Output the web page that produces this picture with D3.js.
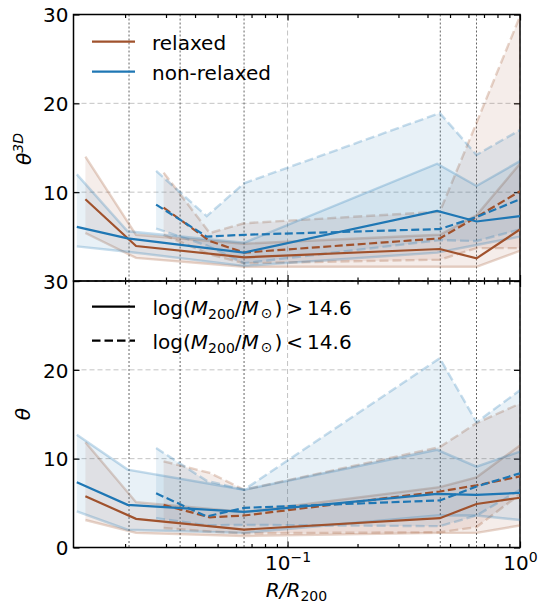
<!DOCTYPE html>
<html><head><meta charset="utf-8">
<script src="https://cdn.jsdelivr.net/npm/d3@7"></script>
<style>
body{margin:0;background:#fff;}
svg{display:block;font-family:"DejaVu Sans",sans-serif;}
</style></head>
<body><svg id="c" width="539" height="607"></svg>
<script>
// ---------- data ----------
const xRelSolid = [0.0135, 0.0223, 0.065, 0.452, 0.65, 1.0];
const xNonSolid = [0.0124, 0.0205, 0.065, 0.44, 0.65, 1.0];
const xRelDash  = [0.0293, 0.0463, 0.065, 0.452, 0.65, 1.0];
const xNonDash  = [0.0272, 0.0449, 0.065, 0.452, 0.65, 1.0];

// top panel: theta^3D
const relTopSolidMed = [9.2, 3.94, 2.67, 3.6, 2.55, 5.8];
const relTopSolidLo  = [5.4, 2.6, 1.6, 1.6, 1.6, 3.4];
const relTopSolidHi  = [14.0, 5.2, 4.2, 5.2, 7.4, 13.2];
const nonTopSolidMed = [6.1, 4.8, 3.2, 7.9, 6.7, 7.3];
const nonTopSolidLo  = [3.9, 3.3, 1.7, 3.2, 4.05, 5.0];
const nonTopSolidHi  = [12.0, 5.6, 4.3, 13.2, 10.7, 13.5];
const relTopDashMed  = [8.25, 4.5, 3.2, 4.8, 7.2, 10.1];
const relTopDashLo   = [5.2, 3.0, 2.0, 2.4, 3.7, 3.7];
const relTopDashHi   = [12.2, 5.4, 6.5, 7.8, 17.8, 29.8];
const nonTopDashMed  = [8.6, 5.0, 5.2, 5.85, 7.2, 9.2];
const nonTopDashLo   = [5.9, 4.0, 2.0, 4.6, 4.5, 5.8];
const nonTopDashHi   = [12.4, 7.3, 11.0, 18.9, 14.2, 17.0];

// bottom panel: theta
const relBotSolidMed = [5.77, 3.23, 2.02, 3.3, 4.9, 5.6];
const relBotSolidLo  = [3.1, 1.65, 1.3, 1.65, 1.65, 2.47];
const relBotSolidHi  = [11.85, 5.1, 4.0, 6.8, 7.9, 11.5];
const nonBotSolidMed = [7.35, 4.8, 4.0, 6.04, 5.93, 6.15];
const nonBotSolidLo  = [4.08, 2.0, 1.65, 3.6, 3.6, 3.1];
const nonBotSolidHi  = [12.7, 8.77, 6.5, 11.0, 9.1, 10.8];
const relBotDashMed  = [4.8, 3.4, 3.6, 6.3, 7.0, 8.0];
const relBotDashLo   = [2.2, 1.8, 1.6, 1.72, 2.3, 6.0];
const relBotDashHi   = [9.7, 8.4, 6.5, 11.3, 14.0, 16.2];
const nonBotDashMed  = [6.1, 3.5, 4.46, 5.3, 6.86, 8.36];
const nonBotDashLo   = [3.3, 2.5, 2.55, 2.4, 3.6, 6.5];
const nonBotDashHi   = [11.2, 7.5, 6.5, 21.3, 14.1, 17.7];

const binEdges = [0.0208, 0.0345, 0.065, 0.454, 0.65];
const yTicks = [0, 10, 20, 30];
const yTicksTopLabels = [10, 20, 30]; // the top panel's "0" sits under the lower panel's "30"
const xMajor = [0.1, 1];
const legendCat = ["relaxed", "non-relaxed"];

// ---------- layout ----------
const C_REL = "#a0522d", C_NON = "#1f77b4";
const L = 73.5, R = 520;
const svg = d3.select("#c");
const x = d3.scaleLog().domain([0.012, 1]).range([L, R]);
const yT = d3.scaleLinear().domain([0, 30]).range([281, 14.5]);
const yB = d3.scaleLinear().domain([0, 30]).range([547.5, 281]);

const defs = svg.append("defs");
function panel(y, id) {
  const [b, t] = y.range();
  defs.append("clipPath").attr("id", id).append("rect")
    .attr("x", L).attr("y", t).attr("width", R - L).attr("height", b - t);
  const g = svg.append("g");
  g.selectAll(".gy").data(yTicks).join("line")
    .attr("x1", L).attr("x2", R).attr("y1", d => y(d)).attr("y2", d => y(d))
    .attr("stroke", "#c4c4c4").attr("stroke-width", 1).attr("stroke-dasharray", "5,3");
  g.selectAll(".gx").data(xMajor).join("line")
    .attr("x1", d => x(d)).attr("x2", d => x(d)).attr("y1", t).attr("y2", b)
    .attr("stroke", "#c4c4c4").attr("stroke-width", 1).attr("stroke-dasharray", "5,3");
  g.selectAll(".ve").data(binEdges).join("line")
    .attr("x1", d => x(d)).attr("x2", d => x(d)).attr("y1", t).attr("y2", b)
    .attr("stroke", "#666").attr("stroke-width", 1).attr("stroke-dasharray", "2,2");
  const content = svg.append("g").attr("clip-path", `url(#${id})`);
  return {g, content, t, b};
}

function band(p, y, xs, lo, hi, med, color, dashed) {
  const pts = xs.map((v, i) => ({x: v, lo: lo[i], hi: hi[i], m: med[i]}));
  p.content.append("path").datum(pts)
    .attr("d", d3.area().x(d => x(d.x)).y0(d => y(d.lo)).y1(d => y(d.hi)))
    .attr("fill", color).attr("fill-opacity", 0.1);
  for (const k of ["lo", "hi"]) {
    p.content.append("path").datum(pts)
      .attr("d", d3.line().x(d => x(d.x)).y(d => y(d[k])))
      .attr("fill", "none").attr("stroke", color).attr("stroke-opacity", 0.25)
      .attr("stroke-width", 2.4).attr("stroke-dasharray", dashed ? "9,4" : null);
  }
}
function medLine(p, y, xs, med, color, dashed) {
  p.content.append("path").datum(xs.map((v, i) => [v, med[i]]))
    .attr("d", d3.line().x(d => x(d[0])).y(d => y(d[1])))
    .attr("fill", "none").attr("stroke", color).attr("stroke-width", 2.2)
    .attr("stroke-dasharray", dashed ? "8,3.5" : null);
}

function axes(p, y, showX, labelVals) {
  const g = p.g.append("g");
  const minor = x.ticks().filter(v => !xMajor.some(m => Math.abs(m - v) < 1e-9));
  const addX = (gen, pos, size, vals) => g.append("g").attr("transform", `translate(0,${pos})`)
    .call(gen(x).tickValues(vals).tickSizeInner(-size).tickSizeOuter(0).tickFormat(""));
  const xb = addX(d3.axisBottom, p.b, 6, xMajor);
  addX(d3.axisBottom, p.b, 3.5, minor);
  addX(d3.axisTop, p.t, 6, xMajor);
  addX(d3.axisTop, p.t, 3.5, minor);
  g.append("g").attr("transform", `translate(${L},0)`)
    .call(d3.axisLeft(y).tickValues(yTicks).tickSizeInner(-6).tickSizeOuter(0).tickPadding(5)
      .tickFormat(d => labelVals.includes(d) ? d3.format("d")(d) : ""));
  g.append("g").attr("transform", `translate(${R},0)`)
    .call(d3.axisRight(y).tickValues(yTicks).tickSizeInner(-6).tickSizeOuter(0).tickFormat(""));
  g.selectAll(".domain").remove();
  g.selectAll(".tick line").attr("stroke", "#000").attr("stroke-width", 1.2);
  g.selectAll("text").attr("font-size", 20).attr("font-family", "DejaVu Sans").attr("fill", "#000")
    .attr("dy", "0.36em");
  if (showX) {
    xb.selectAll(".tick").each(function(d) {
      const t = d3.select(this).append("text").attr("y", 22.5).attr("fill", "#000")
        .attr("text-anchor", "middle").attr("font-size", 20).attr("font-family", "DejaVu Sans");
      const e = Math.round(Math.log10(d));
      t.append("tspan").text("10");
      t.append("tspan").attr("dy", -8.5).attr("font-size", 14).text(e < 0 ? "\u2212" + (-e) : String(e));
    });
  }
  p.g.append("rect").attr("x", L).attr("y", p.t).attr("width", R - L).attr("height", p.b - p.t)
    .attr("fill", "none").attr("stroke", "#000").attr("stroke-width", 1.5);
}

const pT = panel(yT, "clipT");
const pB = panel(yB, "clipB");

band(pT, yT, xRelSolid, relTopSolidLo, relTopSolidHi, relTopSolidMed, C_REL, false);
band(pT, yT, xRelDash, relTopDashLo, relTopDashHi, relTopDashMed, C_REL, true);
band(pT, yT, xNonSolid, nonTopSolidLo, nonTopSolidHi, nonTopSolidMed, C_NON, false);
band(pT, yT, xNonDash, nonTopDashLo, nonTopDashHi, nonTopDashMed, C_NON, true);
band(pB, yB, xRelSolid, relBotSolidLo, relBotSolidHi, relBotSolidMed, C_REL, false);
band(pB, yB, xRelDash, relBotDashLo, relBotDashHi, relBotDashMed, C_REL, true);
band(pB, yB, xNonSolid, nonBotSolidLo, nonBotSolidHi, nonBotSolidMed, C_NON, false);
band(pB, yB, xNonDash, nonBotDashLo, nonBotDashHi, nonBotDashMed, C_NON, true);
medLine(pT, yT, xRelSolid, relTopSolidMed, C_REL, false);
medLine(pT, yT, xRelDash, relTopDashMed, C_REL, true);
medLine(pT, yT, xNonSolid, nonTopSolidMed, C_NON, false);
medLine(pT, yT, xNonDash, nonTopDashMed, C_NON, true);
medLine(pB, yB, xRelSolid, relBotSolidMed, C_REL, false);
medLine(pB, yB, xRelDash, relBotDashMed, C_REL, true);
medLine(pB, yB, xNonSolid, nonBotSolidMed, C_NON, false);
medLine(pB, yB, xNonDash, nonBotDashMed, C_NON, true);

axes(pT, yT, false, yTicksTopLabels);
axes(pB, yB, true, yTicks);

// legends
const lg1 = svg.append("g");
legendCat.forEach((name, i) => {
  const yy = 41.7 + i * 30;
  lg1.append("line").attr("x1", 92).attr("x2", 135).attr("y1", yy).attr("y2", yy)
    .attr("stroke", i === 0 ? C_REL : C_NON).attr("stroke-width", 2.2);
  lg1.append("text").attr("x", 152).attr("y", yy + 7.8).attr("font-size", 20).text(name);
});
const lg2 = svg.append("g");
["> 14.6", "< 14.6"].forEach((cmp, i) => {
  const yy = 306.7 + i * 34;
  lg2.append("line").attr("x1", 92).attr("x2", 135).attr("y1", yy).attr("y2", yy)
    .attr("stroke", "#000").attr("stroke-width", 2.2).attr("stroke-dasharray", i ? "8.5,4" : null);
  const t = lg2.append("text").attr("x", 152.5).attr("y", yy + 8).attr("font-size", 20);
  t.append("tspan").text("log(");
  t.append("tspan").attr("font-style", "italic").text("M");
  t.append("tspan").attr("font-size", 14).attr("dy", 4).text("200");
  t.append("tspan").attr("dy", -4).text("/");
  t.append("tspan").attr("font-style", "italic").text("M");
  t.append("tspan").attr("font-size", 14).attr("dy", 3).attr("dx", 2).text("\u2299");
  t.append("tspan").attr("dy", -3).attr("dx", 2).text(")\u2009" + cmp.replace(" ", "\u2009"));
});

// axis labels
const yl1 = svg.append("text").attr("transform", "translate(31,149) rotate(-90)")
  .attr("text-anchor", "middle").attr("font-size", 20);
yl1.append("tspan").attr("font-style", "italic").text("\u03B8");
yl1.append("tspan").attr("font-style", "italic").attr("font-size", 14).attr("dy", -8).text("3D");
svg.append("text").attr("transform", "translate(30,414) rotate(-90)")
  .attr("text-anchor", "middle").attr("font-size", 20).attr("font-style", "italic").text("\u03B8");
const xl = svg.append("text").attr("x", 296.5).attr("y", 596.5).attr("text-anchor", "middle").attr("font-size", 20);
xl.append("tspan").attr("font-style", "italic").text("R/R");
xl.append("tspan").attr("font-size", 14).attr("dy", 4).text("200");
</script></body></html>
